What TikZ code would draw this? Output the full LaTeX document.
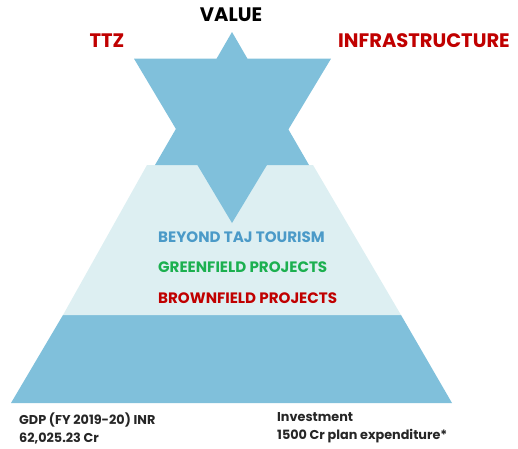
\documentclass[tikz,border=0pt]{standalone}
\usepackage{fontspec}
\setmainfont{Poppins}
\usepackage{xcolor}
\usepackage{tikz}
\usetikzlibrary{positioning}
\definecolor{starblue}{HTML}{80C0DB}
\definecolor{paleblue}{HTML}{DDEFF2}
\definecolor{tajblue}{HTML}{4B9AC8}
\definecolor{greenf}{HTML}{1CB050}
\definecolor{brownf}{HTML}{C00000}

\begin{document}
\begin{tikzpicture}[x=1pt,y=-1pt]
  \tikzstyle{heading}=[font=\fontsize{19.5}{22}\selectfont\bfseries,inner sep=0pt]
  \tikzstyle{item}=[font=\fontsize{15.1}{17}\selectfont\bfseries,inner sep=0pt,anchor=west]
  \tikzstyle{fact}=[font=\fontsize{12.8}{18}\selectfont\bfseries,inner sep=0pt,anchor=west,align=left,text=black!85]
  \useasboundingbox (0,0) rectangle (518,448);

  % pyramid
  \fill[starblue] (11,403) -- (63,315) -- (401,315) -- (452,403) -- cycle;
  \fill[paleblue] (63,315) -- (147,165) -- (313,165) -- (401,315) -- cycle;
  % star
  \fill[starblue] (232,32) -- (155,165) -- (309,165) -- cycle;
  \fill[starblue] (134,58.7) -- (331,58.7) -- (232,223) -- cycle;

  \node[heading] (value) at (231,15) {VALUE};
  \node[heading,text=brownf] (ttz) at (107,41) {TTZ};
  \node[heading,text=brownf] (infra) at (424,41) {INFRASTRUCTURE};

  \node[item,text=tajblue] (beyond) at (158,237) {BEYOND TAJ TOURISM};
  \node[item,text=greenf] (green) at (158,267) {GREENFIELD PROJECTS};
  \node[item,text=brownf] (brown) at (158,298) {BROWNFIELD PROJECTS};

  \node[fact] (gdp) at (19,428) {GDP (FY 2019-20) INR\\62,025.23 Cr};
  \node[fact] (invest) at (277,428) {Investment\\1500 Cr plan expenditure*};
\end{tikzpicture}
\end{document}
